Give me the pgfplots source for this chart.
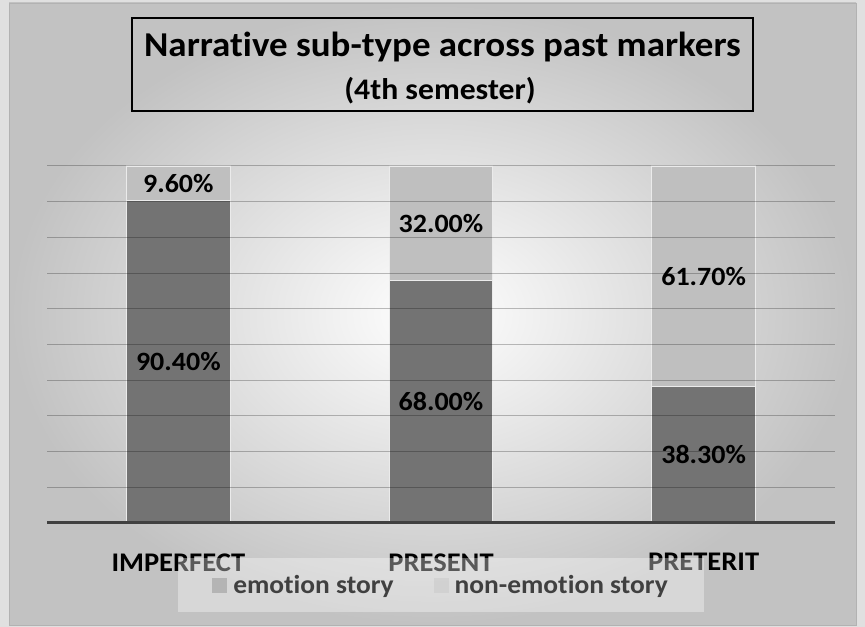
\documentclass[border=0pt]{standalone}
\usepackage{pgfplots}
\pgfplotsset{compat=1.18}
\usepackage{fontspec}
\setmainfont{Carlito}[FakeStretch=1.06, Ligatures=NoCommon]
\definecolor{emo}{HTML}{737373}
\definecolor{nonemo}{HTML}{BFBFBF}
\definecolor{axisc}{HTML}{404040}
\definecolor{legtext}{HTML}{404040}
\begin{document}
\begin{tikzpicture}
% background panel
\fill[black!12] (0bp,0bp) rectangle (865bp,627bp);
\shade[inner color=white, outer color=black!24, draw=black!30, line width=0.8bp] (9bp,2bp) rectangle (856bp,624bp);
% title box
\draw[black, line width=2bp] (132bp,516bp) rectangle (753bp,609bp);
\node[anchor=base, font=\bfseries\fontsize{35}{35}\selectfont] at (442.5bp,570bp) {Narrative sub-type across past markers};
\node[anchor=base, font=\bfseries\fontsize{30}{30}\selectfont] at (440bp,527bp) {(4th semester)};
\begin{axis}[
  at={(47bp,104bp)}, anchor=south west,
  scale only axis,
  width=788bp, height=357bp,
  xmin=-0.5, xmax=2.5,
  ymin=0, ymax=100,
  ybar stacked,
  bar width=0.395,
  axis on top,
  axis x line*=bottom,
  axis y line*=left,
  x axis line style={axisc, line width=3bp},
  y axis line style={draw=none},
  xtick=data,
  xticklabels={IMPERFECT,PRESENT,PRETERIT},
  xticklabel style={font=\bfseries\fontsize{27}{27}\selectfont, text=black, yshift=-27bp},
  ytick={0,10,...,100},
  yticklabels={},
  major tick length=0pt,
  ymajorgrids,
  grid style={black, opacity=0.25, line width=1bp},
  point meta=explicit,
  nodes near coords={\pgfmathprintnumber[fixed,fixed zerofill,precision=2,assume math mode=true]{\pgfplotspointmeta}\%},
  every node near coord/.append style={anchor=center, text=black,
    font=\bfseries\fontsize{26.5}{26.5}\selectfont},
  legend columns=2,
  legend style={at={(0.5,-0.174)}, anchor=center, draw=none,
    fill=white, fill opacity=0.35, text opacity=1,
    inner xsep=34bp, inner ysep=15bp,
    font=\bfseries\fontsize{26}{26}\selectfont, text=legtext,
    /tikz/every odd column/.append style={column sep=4bp},
    /tikz/every even column/.append style={column sep=38bp}},
  legend image code/.code={\fill[#1, draw=none] (0bp,-7.5bp) rectangle (15bp,7.5bp);},
]
\addplot[fill=emo, draw=black!8, line width=1.2bp] coordinates {(0,90.4) [90.4] (1,68.0) [68.0] (2,38.3) [38.3]};
\addlegendentry{emotion story}
\addplot[fill=nonemo, draw=black!8, line width=1.2bp] coordinates {(0,9.6) [9.6] (1,32.0) [32.0] (2,61.7) [61.7]};
\addlegendentry{non-emotion story}
\end{axis}
\end{tikzpicture}
\end{document}
